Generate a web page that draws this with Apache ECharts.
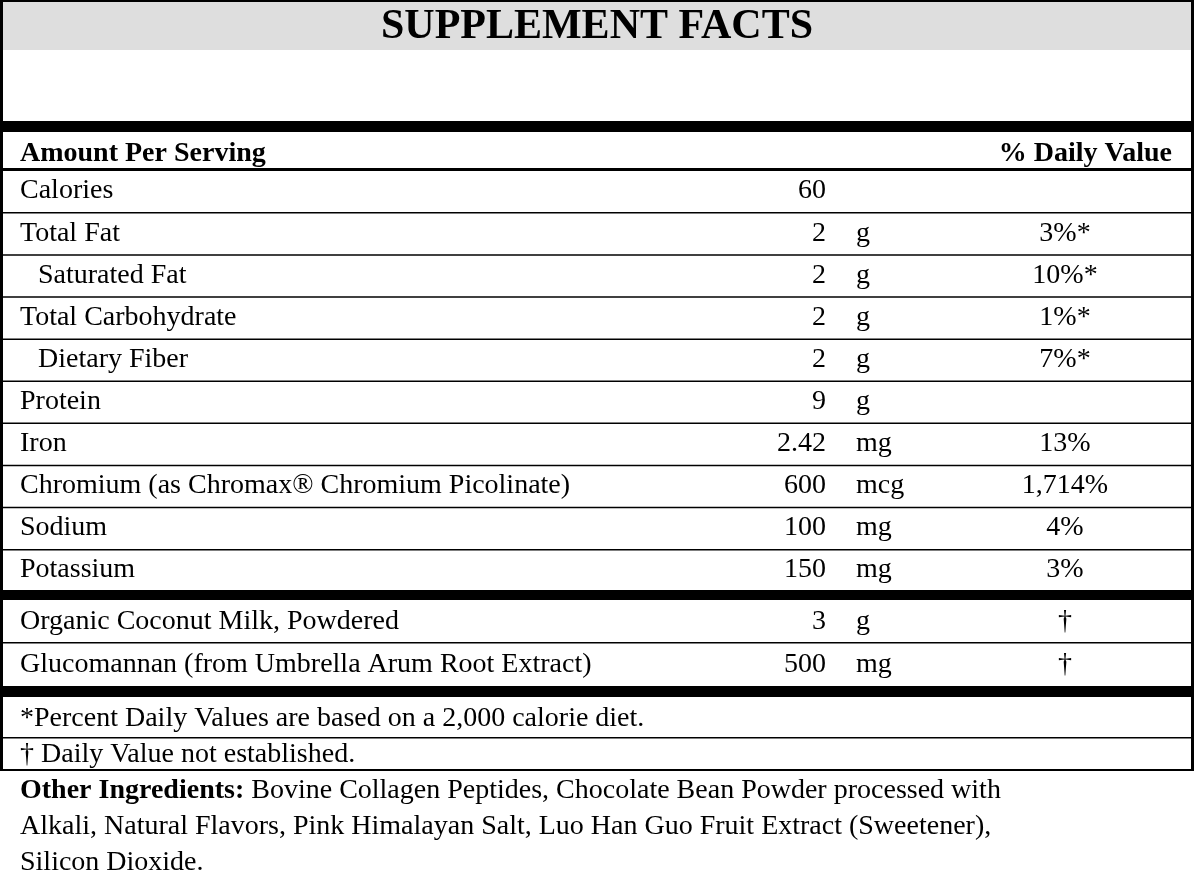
<!DOCTYPE html><html><head><meta charset="utf-8"><script src="https://cdn.jsdelivr.net/npm/echarts@6/dist/echarts.min.js"></script>
<style>html,body{margin:0;padding:0;background:#fff}#c{width:1194px;height:890px}</style></head><body><div id="c"></div><script>
const nutrients=["Calories","Total Fat","Saturated Fat","Total Carbohydrate","Dietary Fiber","Protein","Iron","Chromium (as Chromax® Chromium Picolinate)","Sodium","Potassium"];
const indent=[false,false,true,false,true,false,false,false,false,false];
const amounts=["60","2","2","2","2","9","2.42","600","100","150"];
const units=["","g","g","g","g","g","mg","mcg","mg","mg"];
const dv=["","3%*","10%*","1%*","7%*","","13%","1,714%","4%","3%"];
const others=["Organic Coconut Milk, Powdered","Glucomannan (from Umbrella Arum Root Extract)"];
const otherAmounts=["3","500"];
const otherUnits=["g","mg"];
const otherDv=["†","†"];
const footnotes=["*Percent Daily Values are based on a 2,000 calorie diet.","† Daily Value not established."];
const ingredientLines=[["Other Ingredients: ","Bovine Collagen Peptides, Chocolate Bean Powder processed with"],["","Alkali, Natural Flavors, Pink Himalayan Salt, Luo Han Guo Fruit Extract (Sweetener),"],["","Silicon Dioxide."]];
const FF='Liberation Serif';
const FS=28;
const g=[];
function rect(x,y,w,h,c){g.push({type:'rect',shape:{x,y,width:w,height:h},style:{fill:c},silent:true});}
function txt(t,x,y,o={}){g.push({type:'text',x,y,style:{text:t,fontFamily:FF,fontSize:o.size||FS,fontWeight:o.bold?'bold':'normal',fill:'#000',align:o.align||'left',verticalAlign:'middle'},silent:true});}
rect(0,0,1194,50,'#dedede');
txt('SUPPLEMENT FACTS',597,27,{bold:1,size:42,align:'center'});
rect(0,121,1194,11,'#000');
txt('Amount Per Serving',20,154,{bold:1});
txt('% Daily Value',1172,154,{bold:1,align:'right'});
rect(0,168,1194,3,'#000');
const rh=42.1;
function row(y,name,ind,a,u,d){txt(name,ind?38:20,y);txt(a,826,y,{align:'right'});txt(u,856,y);txt(d,1065,y,{align:'center'});}
nutrients.forEach((n,i)=>{const y0=171+i*rh;row(y0+rh/2-1,n,indent[i],amounts[i],units[i],dv[i]);if(i<nutrients.length-1)rect(0,y0+rh-1,1194,1.5,'#000');});
rect(0,590,1194,10,'#000');
others.forEach((n,i)=>{const y0=600+i*43;row(y0+22,n,false,otherAmounts[i],otherUnits[i],otherDv[i]);if(i<others.length-1)rect(0,y0+42,1194,1.5,'#000');});
rect(0,686,1194,11,'#000');
txt(footnotes[0],20,719);
rect(0,737,1194,1.5,'#000');
txt(footnotes[1],20,755);
rect(0,769,1194,2,'#000');
rect(0,0,1194,2,'#000');
rect(0,0,3,771,'#000');rect(1191,0,3,771,'#000');
ingredientLines.forEach((l,i)=>{const y=791+i*36;g.push({type:'text',x:20,y,style:{rich:{b:{fontFamily:FF,fontSize:FS,fontWeight:'bold',fill:'#000'},n:{fontFamily:FF,fontSize:FS,fill:'#000'}},text:(l[0]?'{b|'+l[0]+'}':'')+'{n|'+l[1]+'}',verticalAlign:'middle'},silent:true});});
const ch=echarts.init(document.getElementById('c'),null,{renderer:'canvas'});
ch.setOption({animation:false,graphic:{elements:g}});
</script></body></html>
